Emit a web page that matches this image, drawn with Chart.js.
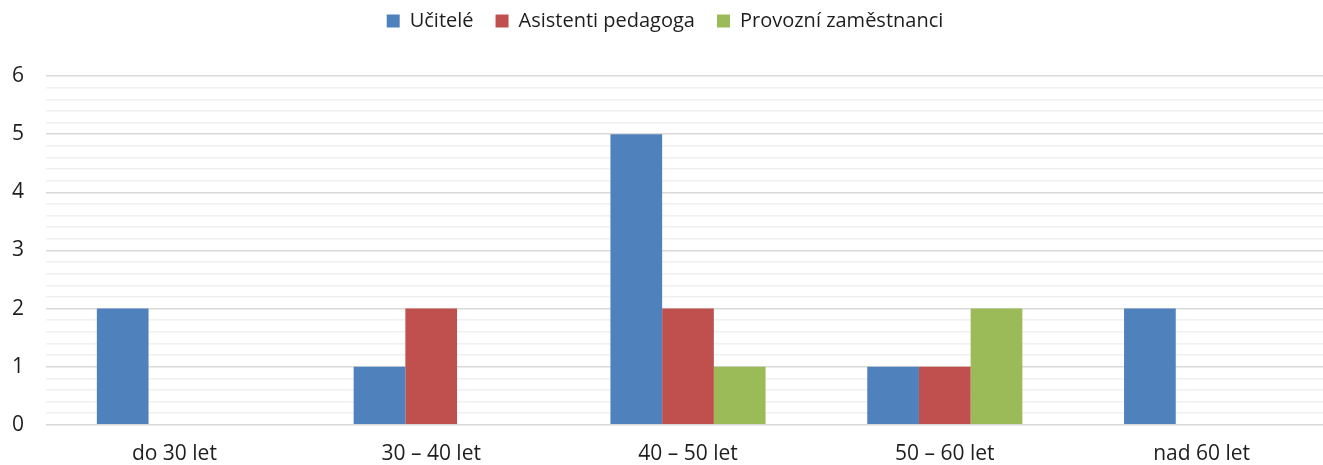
<!DOCTYPE html>
<html>
<head>
<meta charset="utf-8">
<script src="https://cdn.jsdelivr.net/npm/chart.js@4"></script>
<style>
  html, body { margin: 0; padding: 0; background: #fff; overflow: hidden; }
  #wrap { width: 1330px; height: 476px; }
</style>
</head>
<body>
<div id="wrap"><canvas id="chart"></canvas></div>
<script>
const categories = ["do 30 let", "30 – 40 let", "40 – 50 let", "50 – 60 let", "nad 60 let"];
const ucitele = [2, 1, 5, 1, 2];
const asistenti = [0, 2, 2, 1, 0];
const provozni = [0, 0, 1, 2, 0];

const font = "'Open Sans', 'Noto Sans', sans-serif";
Chart.defaults.font.family = font;
Chart.defaults.color = "#1e1e1e";

// extra room between legend and plot
const legendGap = {
  id: "legendGap",
  beforeInit(chart) {
    const fit = chart.legend.fit;
    chart.legend.fit = function () {
      fit.bind(chart.legend)();
      this.height += 35;
    };
  },
};

new Chart(document.getElementById("chart"), {
  type: "bar",
  data: {
    labels: categories,
    datasets: [
      { label: "Učitelé", data: ucitele, backgroundColor: "#4F81BD" },
      { label: "Asistenti pedagoga", data: asistenti, backgroundColor: "#C0504D" },
      { label: "Provozní zaměstnanci", data: provozni, backgroundColor: "#9BBB59" },
    ],
  },
  options: {
    responsive: true,
    maintainAspectRatio: false,
    animation: false,
    layout: { padding: { top: -11, right: 0, bottom: 0, left: 0 } },
    datasets: {
      bar: { categoryPercentage: 0.604, barPercentage: 1.0 },
    },
    plugins: {
      legend: {
        position: "top",
        labels: {
          boxWidth: 13,
          boxHeight: 13,
          padding: 22,
          font: { size: 20 },
        },
      },
      tooltip: { enabled: false },
    },
    scales: {
      x: {
        grid: { display: false },
        border: { display: false },
        ticks: { font: { size: 21 }, padding: 9 },
      },
      y: {
        min: 0,
        max: 6,
        afterFit: (scale) => { scale.width = 46; },
        border: { display: false },
        grid: {
          drawTicks: false,
          color: (ctx) => {
            const v = ctx.tick ? ctx.tick.value : 0;
            return Math.abs(v - Math.round(v)) < 1e-6 ? "#d9d9d9" : "#f0f0f0";
          },
          lineWidth: 1.5,
        },
        ticks: {
          stepSize: 0.2,
          autoSkip: false,
          padding: 22,
          font: { size: 21 },
          callback: (v) => (Math.abs(v - Math.round(v)) < 1e-6 ? Math.round(v) : ""),
        },
      },
    },
  },
  plugins: [legendGap],
});
</script>
</body>
</html>
